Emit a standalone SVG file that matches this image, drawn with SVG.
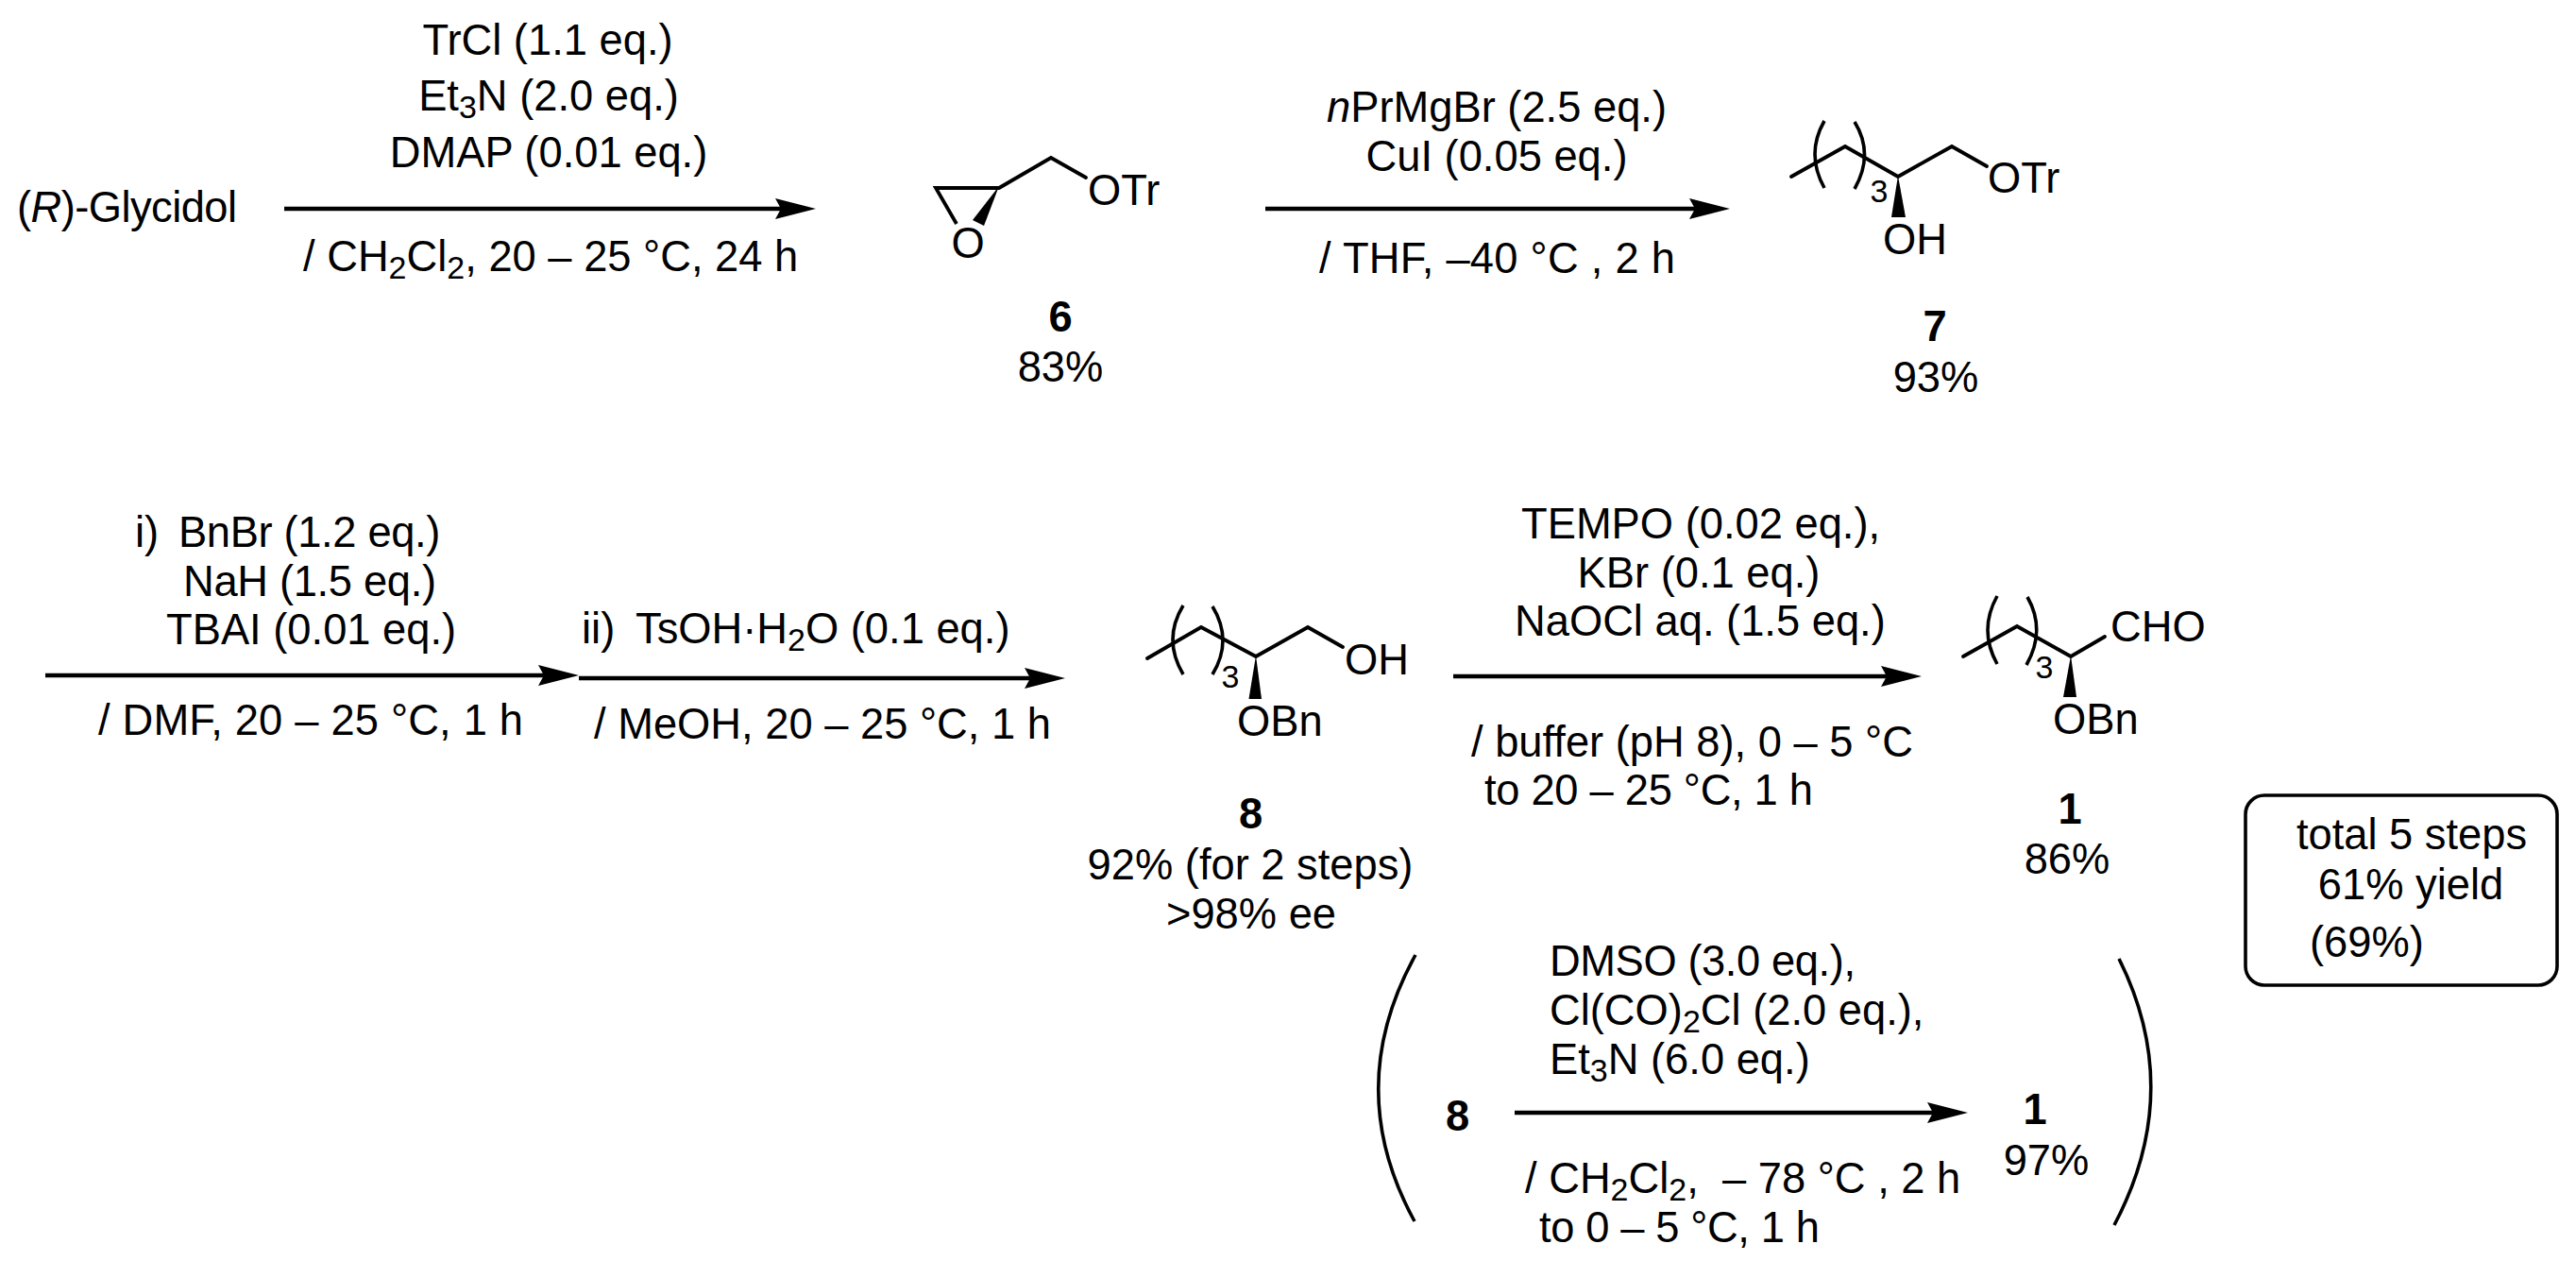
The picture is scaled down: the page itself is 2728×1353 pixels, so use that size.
<svg xmlns="http://www.w3.org/2000/svg" width="2728" height="1353" viewBox="0 0 2728 1353">
<style>
text{font-family:"Liberation Sans",Arial,sans-serif;font-size:45.3px;fill:#000}
.m{text-anchor:middle}
.b{font-weight:bold}
.i{font-style:italic}
.s{font-size:34px}
.n{font-size:34px}
.bond{fill:none;stroke:#000;stroke-width:3.8;stroke-linecap:round;stroke-linejoin:miter}
.brk{fill:none;stroke:#000;stroke-width:3.6;stroke-linecap:butt}
.arr{stroke:#000;stroke-width:4.6;fill:none;marker-end:url(#head)}
.wedge{fill:#000;stroke:none}
</style>
<defs>
<marker id="head" markerUnits="userSpaceOnUse" markerWidth="46" markerHeight="26" refX="15" refY="13" orient="auto" overflow="visible">
<path d="M1 2 L44 13 L1 24 L7 13 Z" fill="#000"/>
</marker>
</defs>
<rect width="2728" height="1353" fill="#fff"/>

<g id="connectors">
<line class="arr" x1="301" y1="221" x2="835" y2="221"/>
<line class="arr" x1="1340" y1="221" x2="1803" y2="221"/>
<line class="arr" x1="48" y1="715" x2="584" y2="715"/>
<line class="arr" x1="613" y1="718" x2="1099" y2="718"/>
<line class="arr" x1="1539" y1="716" x2="2006" y2="716"/>
<line class="arr" x1="1604" y1="1178" x2="2055" y2="1178"/>
</g>

<g id="reagents-1">
<text class="m" x="580" y="58">TrCl (1.1 eq.)</text>
<text class="m" x="581" y="117">Et<tspan class="s" dy="8">3</tspan><tspan dy="-8">N (2.0 eq.)</tspan></text>
<text class="m" x="581" y="177">DMAP (0.01 eq.)</text>
<text x="321" y="287">/ CH<tspan class="s" dy="8">2</tspan><tspan dy="-8">Cl</tspan><tspan class="s" dy="8">2</tspan><tspan dy="-8">, 20 – 25 °C, 24 h</tspan></text>
</g>

<g id="reagents-2">
<text class="m" x="1585" y="129"><tspan class="i">n</tspan>PrMgBr (2.5 eq.)</text>
<text class="m" x="1585" y="181">CuI (0.05 eq.)</text>
<text x="1397" y="289" textLength="377">/ THF, –40 °C , 2 h</text>
</g>

<g id="reagents-3">
<text x="143" y="579">i) <tspan x="189" style="letter-spacing:-0.35px">BnBr (1.2 eq.)</tspan></text>
<text x="194" y="631" textLength="268">NaH (1.5 eq.)</text>
<text x="176" y="682">TBAI (0.01 eq.)</text>
<text x="104" y="778" textLength="450">/ DMF, 20 – 25 °C, 1 h</text>
</g>

<g id="reagents-4">
<text x="616" y="681">ii) <tspan x="673">TsOH·H</tspan><tspan class="s" dy="8">2</tspan><tspan dy="-8">O (0.1 eq.)</tspan></text>
<text x="629" y="782">/ MeOH, 20 – 25 °C, 1 h</text>
</g>

<g id="reagents-5">
<text x="1611" y="570">TEMPO (0.02 eq.),</text>
<text class="m" x="1799" y="622">KBr (0.1 eq.)</text>
<text x="1604" y="673">NaOCl aq. (1.5 eq.)</text>
<text x="1558" y="801">/ buffer (pH 8), 0 – 5 °C</text>
<text x="1572" y="852" textLength="348">to 20 – 25 °C, 1 h</text>
</g>

<g id="reagents-6">
<text x="1641" y="1033" textLength="324">DMSO (3.0 eq.),</text>
<text x="1641" y="1085">Cl(CO)<tspan class="s" dy="8">2</tspan><tspan dy="-8">Cl (2.0 eq.),</tspan></text>
<text x="1641" y="1137">Et<tspan class="s" dy="8">3</tspan><tspan dy="-8">N (6.0 eq.)</tspan></text>
<text x="1615" y="1263" xml:space="preserve">/ CH<tspan class="s" dy="8">2</tspan><tspan dy="-8">Cl</tspan><tspan class="s" dy="8">2</tspan><tspan dy="-8">,  – 78 °C , 2 h</tspan></text>
<text x="1630" y="1315" textLength="297">to 0 – 5 °C, 1 h</text>
</g>

<g id="glycidol">
<text x="18" y="235" textLength="233">(<tspan class="i">R</tspan>)-Glycidol</text>
</g>

<g id="compound-6">
<path class="bond" d="M1013 237 L991 199 H1058" style="stroke-linecap:butt"/>
<path class="bond" d="M1058 199 L1113 167 L1150 188"/>
<path class="wedge" d="M1058 197 L1042 239 L1030 233 Z"/>
<text class="m" x="1025" y="273">O</text>
<text x="1152" y="217">OTr</text>
<text class="m b" x="1123" y="351">6</text>
<text class="m" x="1123" y="404">83%</text>
</g>

<g id="compound-7">
<path class="bond" d="M1897 187 L1954 155 L2010 187 L2067 155 L2104 176"/>
<path class="brk" d="M1932 128 Q1912 163 1932 199"/>
<path class="brk" d="M1964 129 Q1985 163 1964 200"/>
<path class="wedge" d="M2010 186 L2018 230 H2003 Z"/>
<text class="m n" x="1990" y="214">3</text>
<text x="1994" y="269">OH</text>
<text x="2105" y="204">OTr</text>
<text class="m b" x="2049" y="361">7</text>
<text class="m" x="2050" y="415">93%</text>
</g>

<g id="compound-8">
<path class="bond" d="M1215 697 L1272 664 L1330 695 L1385 664 L1422 685"/>
<path class="brk" d="M1253 641 Q1231 677 1253 714"/>
<path class="brk" d="M1284 642 Q1306 678 1284 714"/>
<path class="wedge" d="M1330 694 L1336 740 H1322.5 Z"/>
<text class="m n" x="1303" y="728">3</text>
<text x="1424" y="714">OH</text>
<text x="1310" y="779">OBn</text>
<text class="m b" x="1324.5" y="877">8</text>
<text class="m" x="1324" y="931">92% (for 2 steps)</text>
<text class="m" x="1325" y="983">&gt;98% ee</text>
</g>

<g id="compound-1">
<path class="bond" d="M2079 695 L2136 663 L2193 695 L2229 674"/>
<path class="brk" d="M2115 631 Q2095 667 2115 703"/>
<path class="brk" d="M2147 632 Q2167 667 2146 704"/>
<path class="wedge" d="M2193 694 L2199 738 H2185 Z"/>
<text class="m n" x="2165" y="718">3</text>
<text x="2235" y="679">CHO</text>
<text x="2174" y="777">OBn</text>
<text class="m b" x="2192" y="872">1</text>
<text class="m" x="2189" y="925">86%</text>
</g>

<g id="summary-box">
<rect x="2378" y="842" width="330" height="201" rx="20" ry="20" fill="none" stroke="#000" stroke-width="3.6"/>
<text class="m" x="2554" y="899">total 5 steps</text>
<text class="m" x="2553" y="952">61% yield</text>
<text x="2446" y="1013">(69%)</text>
</g>

<g id="swern-alternative">
<path class="brk" d="M1499 1011 Q1421 1152 1498 1293"/>
<path class="brk" d="M2244 1015 Q2314 1155 2239 1297"/>
<text class="m b" x="1543.5" y="1197">8</text>
<text class="m b" x="2155" y="1190">1</text>
<text class="m" x="2167" y="1244">97%</text>
</g>
</svg>
